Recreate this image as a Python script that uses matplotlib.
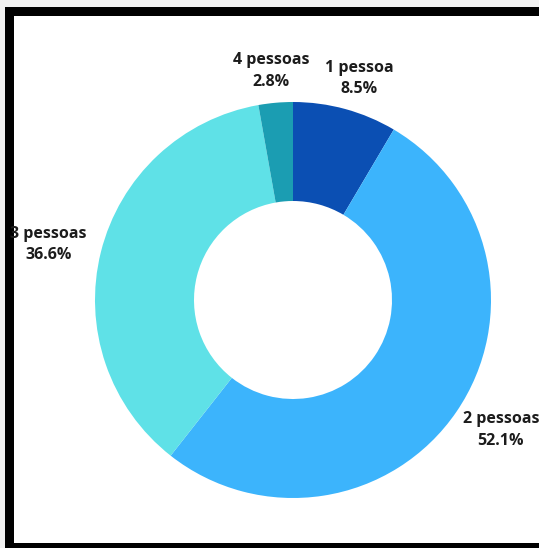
import numpy as np
import matplotlib
matplotlib.use('Agg')
import matplotlib.pyplot as plt
from matplotlib.patches import Rectangle

plt.rcParams['font.family'] = ['Open Sans', 'DejaVu Sans']

categories = ['1 pessoa', '2 pessoas', '3 pessoas', '4 pessoas']
shares = [8.5, 52.1, 36.6, 2.8]
colors = ['#0b4fb3', '#3cb4fc', '#5fe1e7', '#1b9db2']

W, H = 539, 548
cx, cy, R = 293, 300, 198  # pixel centre and outer radius

fig = plt.figure(figsize=(W / 100, H / 100), dpi=100)
fig.patch.set_facecolor('#f1f1f1')

# black frame (right side is cropped in the reference)
fig.add_artist(Rectangle((5 / W, 0), 1, 1 - 7 / H, transform=fig.transFigure,
                         facecolor='black', edgecolor='none', zorder=0))
fig.add_artist(Rectangle((14 / W, 5 / H), 1, 1 - 21 / H, transform=fig.transFigure,
                         facecolor='white', edgecolor='none', zorder=0))

ax = fig.add_axes([0, 0, 1, 1])
ax.set_facecolor('none')

wedges, _ = ax.pie(shares, colors=colors, startangle=90, counterclock=False,
                   radius=1.0, wedgeprops=dict(width=0.5, edgecolor='none'))

ax.set_xlim(-cx / R, (W - cx) / R)
ax.set_ylim(-(H - cy) / R, cy / R)
ax.set_aspect('equal')
ax.axis('off')

for w, name, val in zip(wedges, categories, shares):
    ang = np.deg2rad((w.theta1 + w.theta2) / 2)
    c, s = np.cos(ang), np.sin(ang)
    ax.annotate(f'{name}\n{val:.1f}%', xy=(1.05 * c, 1.05 * s),
                xytext=(44 * c, 22 * s), textcoords='offset pixels',
                ha='center', va='center', fontsize=11.5, fontweight='bold',
                color='#1c1c1c', linespacing=1.45)

fig.savefig('out.png', dpi=100, facecolor=fig.get_facecolor())
